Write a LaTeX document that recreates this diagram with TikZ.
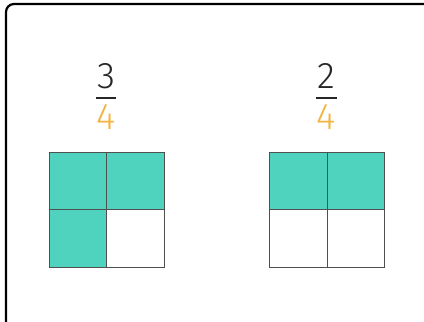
\documentclass[tikz,border=0pt]{standalone}
\usepackage{fontspec}
\setmainfont{Fira Sans Light}
\definecolor{shade}{HTML}{4FD3BF}
\definecolor{denom}{HTML}{F2B440}
\definecolor{gridline}{HTML}{505050}
\tikzset{
  cell/.style={draw=gridline, line width=1.4pt, minimum size=57.5pt, inner sep=0pt},
  numer/.style={font=\fontsize{37}{37}\selectfont, text=black!85, inner sep=0pt},
  denomnode/.style={font=\fontsize{37}{37}\selectfont, text=denom, inner sep=0pt},
  fracbar/.style={line width=2pt, black!85}
}
\begin{document}
\begin{tikzpicture}[x=1pt,y=-1pt]
  \useasboundingbox (0,0) rectangle (424,322);
  \clip (0,0) rectangle (424,322);
  \draw[line width=2.2pt, rounded corners=8pt] (6,4) rectangle (440,340);

  % left square: 3 of 4 shaded
  \foreach \n/\x/\y/\c in {a/78/181/shade,b/135.5/181/shade,c/78/238.5/shade,d/135.5/238.5/white} {
    \node[cell, fill=\c] (l\n) at (\x,\y) {};
  }
  % right square: 2 of 4 shaded
  \foreach \n/\x/\y/\c in {a/298.5/181/shade,b/356/181/shade,c/298.5/238.5/white,d/356/238.5/white} {
    \node[cell, fill=\c] (r\n) at (\x,\y) {};
  }

  \node[numer] (ltop) at (106,76) {3};
  \coordinate (lbarw) at (96,97.5);
  \coordinate (lbare) at (116,97.5);
  \draw[fracbar] (lbarw) -- (lbare);
  \node[denomnode] (lbot) at (106,117) {4};

  \node[numer] (rtop) at (326,76) {2};
  \coordinate (rbarw) at (316,97.5);
  \coordinate (rbare) at (337,97.5);
  \draw[fracbar] (rbarw) -- (rbare);
  \node[denomnode] (rbot) at (326,117) {4};
\end{tikzpicture}
\end{document}
